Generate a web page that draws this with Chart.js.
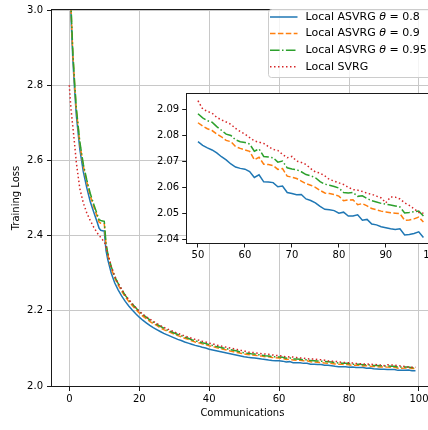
<!DOCTYPE html>
<html>
<head>
<meta charset="utf-8">
<script src="https://cdn.jsdelivr.net/npm/chart.js@4.4.0/dist/chart.umd.min.js"></script>
<style>
  html, body { margin: 0; padding: 0; background: #fff; overflow: hidden; }
  #wrap { position: relative; width: 428px; height: 430px; overflow: hidden; }
  #mainChart { position: absolute; left: 0; top: 0; }
  #insetChart { position: absolute; left: 140px; top: 85px; }
</style>
</head>
<body>
<div id="wrap">
  <canvas id="mainChart" width="440" height="430"></canvas>
  <canvas id="insetChart" width="320" height="180"></canvas>
</div>
<script>
// x positions: finer steps over the first rounds, then one per communication
const commsEarly = [0, 0.25, 0.5, 1, 1.5, 2, 3, 4, 5, 6, 7, 8, 8.5, 9, 9.5, 10, 10.5];
const comms = commsEarly.slice();
for (let c = 11; c <= 99; c++) comms.push(c);

const seriesLabels = ['Local ASVRG θ = 0.8', 'Local ASVRG θ = 0.9', 'Local ASVRG θ = 0.95', 'Local SVRG'];

const lossTheta08 = [
  3.50, 3.15, 2.98, 2.87, 2.79, 2.72, 2.63, 2.57, 2.527, 2.49, 2.462, 2.435, 2.42, 2.414, 2.413, 2.412, 2.36,
  2.336, 2.300, 2.274, 2.255, 2.239, 2.225, 2.213, 2.202, 2.192, 2.183, 2.175, 2.168, 2.161, 2.155, 2.150,
  2.145, 2.140, 2.136, 2.132, 2.128, 2.124, 2.121, 2.117, 2.114, 2.111, 2.108, 2.106, 2.103, 2.101, 2.098,
  2.096, 2.094, 2.092, 2.090, 2.088, 2.086, 2.084, 2.082, 2.080,
  2.0776, 2.0762, 2.0752, 2.0744, 2.0733, 2.0718, 2.0706, 2.0690, 2.0678, 2.0673,
  2.0670, 2.0661, 2.0638, 2.0648, 2.0621, 2.0620, 2.0618, 2.0602, 2.0605, 2.0580,
  2.0576, 2.0571, 2.0572, 2.0555, 2.0549, 2.0540, 2.0526, 2.0515, 2.0513, 2.0510,
  2.0500, 2.0504, 2.0489, 2.0489, 2.0494, 2.0473, 2.0476, 2.0458, 2.0455, 2.0448,
  2.0444, 2.0440, 2.0437, 2.0440, 2.0416, 2.0418, 2.0422, 2.0428, 2.0406, 2.0404
];

const lossTheta09 = [
  3.55, 3.20, 3.00, 2.885, 2.805, 2.735, 2.645, 2.585, 2.543, 2.505, 2.477, 2.45, 2.436, 2.433, 2.432, 2.431, 2.375,
  2.349, 2.313, 2.287, 2.268, 2.252, 2.237, 2.225, 2.214, 2.204, 2.194, 2.186, 2.179, 2.172, 2.166, 2.161,
  2.155, 2.150, 2.146, 2.142, 2.138, 2.134, 2.131, 2.127, 2.124, 2.120, 2.117, 2.115, 2.112, 2.110, 2.107,
  2.105, 2.102, 2.100, 2.098, 2.096, 2.093, 2.091, 2.089, 2.087,
  2.0849, 2.0836, 2.0826, 2.0819, 2.0806, 2.0795, 2.0781, 2.0776, 2.0757, 2.0750,
  2.0744, 2.0739, 2.0706, 2.0716, 2.0689, 2.0688, 2.0684, 2.0669, 2.0672, 2.0643,
  2.0639, 2.0634, 2.0624, 2.0614, 2.0608, 2.0600, 2.0588, 2.0578, 2.0576, 2.0572,
  2.0566, 2.0548, 2.0551, 2.0552, 2.0533, 2.0537, 2.0528, 2.0518, 2.0513, 2.0508,
  2.0505, 2.0502, 2.0500, 2.0498, 2.0473, 2.0474, 2.0478, 2.0485, 2.0466, 2.0465
];

const lossTheta095 = [
  3.58, 3.22, 3.01, 2.89, 2.81, 2.74, 2.65, 2.59, 2.548, 2.512, 2.483, 2.456, 2.442, 2.440, 2.439, 2.438, 2.38,
  2.353, 2.317, 2.291, 2.272, 2.256, 2.241, 2.229, 2.218, 2.208, 2.198, 2.190, 2.183, 2.176, 2.170, 2.164,
  2.159, 2.154, 2.149, 2.145, 2.141, 2.137, 2.134, 2.130, 2.127, 2.123, 2.120, 2.118, 2.115, 2.113, 2.110,
  2.108, 2.105, 2.103, 2.101, 2.099, 2.097, 2.095, 2.093, 2.090,
  2.0884, 2.0868, 2.0857, 2.0851, 2.0834, 2.0820, 2.0805, 2.0800, 2.0783, 2.0776,
  2.0773, 2.0767, 2.0739, 2.0748, 2.0719, 2.0717, 2.0714, 2.0697, 2.0701, 2.0675,
  2.0671, 2.0668, 2.0660, 2.0649, 2.0644, 2.0637, 2.0622, 2.0612, 2.0608, 2.0603,
  2.0597, 2.0580, 2.0578, 2.0580, 2.0565, 2.0567, 2.0557, 2.0548, 2.0543, 2.0538,
  2.0535, 2.0532, 2.0528, 2.0524, 2.0501, 2.0503, 2.0506, 2.0508, 2.0489, 2.0488
];

const lossSvrg = [
  2.80, 2.765, 2.735, 2.69, 2.645, 2.595, 2.525, 2.487, 2.46, 2.44, 2.422, 2.407, 2.40, 2.395, 2.389, 2.384, 2.37,
  2.353, 2.318, 2.292, 2.273, 2.257, 2.242, 2.230, 2.219, 2.209, 2.199, 2.191, 2.184, 2.178, 2.172, 2.166,
  2.161, 2.156, 2.152, 2.148, 2.144, 2.140, 2.137, 2.133, 2.130, 2.127, 2.124, 2.122, 2.119, 2.117, 2.114,
  2.112, 2.109, 2.107, 2.105, 2.103, 2.101, 2.099, 2.097, 2.095,
  2.0934, 2.0902, 2.0893, 2.0886, 2.0870, 2.0860, 2.0852, 2.0843, 2.0827, 2.0815,
  2.0805, 2.0792, 2.0779, 2.0774, 2.0769, 2.0757, 2.0746, 2.0742, 2.0727, 2.0714,
  2.0719, 2.0701, 2.0696, 2.0688, 2.0672, 2.0659, 2.0655, 2.0644, 2.0630, 2.0624,
  2.0617, 2.0611, 2.0600, 2.0591, 2.0589, 2.0584, 2.0577, 2.0573, 2.0566, 2.0559,
  2.0540, 2.0563, 2.0562, 2.0555, 2.0540, 2.0530, 2.0517, 2.0503, 2.0500, 2.0498
];

const mainXTicks = [0, 20, 40, 60, 80, 100];
const mainYTicks = [2.0, 2.2, 2.4, 2.6, 2.8, 3.0];
const insetXTicks = [50, 60, 70, 80, 90, 100];
const insetYTicks = [2.04, 2.05, 2.06, 2.07, 2.08, 2.09];

Chart.defaults.font.family = 'DejaVu Sans';
Chart.defaults.font.size = 10;
Chart.defaults.color = '#000';

const styles = [
  { values: lossTheta08, color: '#1f77b4', dash: [], order: 3 },
  { values: lossTheta09, color: '#ff7f0e', dash: [5.5, 2.4], order: 2 },
  { values: lossTheta095, color: '#2ca02c', dash: [9.6, 2.4, 1.5, 2.4], order: 1 },
  { values: lossSvrg, color: '#d62728', dash: [1.5, 2.5], order: 0 },
];

function toPoints(values, lo, hi) {
  const pts = [];
  comms.forEach((c, i) => {
    if (c >= lo && c <= hi) pts.push({ x: c, y: values[i] });
  });
  return pts;
}

function buildDatasets(lo, hi) {
  return styles.map((s, i) => ({
    label: seriesLabels[i],
    data: toPoints(s.values, lo, hi),
    borderColor: s.color,
    backgroundColor: s.color,
    borderDash: s.dash,
    borderWidth: 1.5,
    pointRadius: 0,
    tension: 0,
    order: s.order,
  }));
}

// black frame round the plot area, like matplotlib spines
const spines = {
  id: 'spines',
  afterDatasetsDraw(chart) {
    const a = chart.chartArea, ctx = chart.ctx;
    ctx.save();
    ctx.strokeStyle = '#1a1a1a';
    ctx.lineWidth = 1;
    const l = Math.round(a.left) - 0.5, t = Math.round(a.top) - 0.5;
    const r = Math.round(a.right) + 0.5, b = Math.round(a.bottom) + 0.5;
    ctx.strokeRect(l, t, r - l, b - t);
    ctx.restore();
  }
};

const whiteArea = {
  id: 'whiteArea',
  beforeDraw(chart) {
    const a = chart.chartArea, ctx = chart.ctx;
    ctx.save();
    ctx.fillStyle = '#fff';
    ctx.fillRect(a.left, a.top, a.right - a.left, a.bottom - a.top);
    ctx.restore();
  }
};

const boxLegend = {
  id: 'boxLegend',
  afterDraw(chart) {
    const ctx = chart.ctx;
    ctx.save();
    ctx.beginPath();
    ctx.roundRect(268.5, 9.5, 200, 68, 3);
    ctx.fillStyle = 'rgba(255,255,255,0.8)';
    ctx.fill();
    ctx.strokeStyle = '#cccccc';
    ctx.lineWidth = 1;
    ctx.stroke();
    styles.forEach((s, i) => {
      const y = 17 + i * 16.6;
      ctx.strokeStyle = s.color;
      ctx.lineWidth = 1.5;
      ctx.setLineDash(s.dash);
      ctx.beginPath();
      ctx.moveTo(270, y);
      ctx.lineTo(297.5, y);
      ctx.stroke();
      ctx.setLineDash([]);
      ctx.fillStyle = '#000';
      ctx.textBaseline = 'middle';
      const parts = seriesLabels[i].split('θ');
      let x = 305.5;
      ctx.font = '11px "DejaVu Sans"';
      ctx.fillText(parts[0], x, y);
      x += ctx.measureText(parts[0]).width;
      if (parts.length > 1) {
        ctx.font = 'italic 11px "DejaVu Sans"';
        ctx.fillText('θ', x, y);
        x += ctx.measureText('θ').width;
        ctx.font = '11px "DejaVu Sans"';
        ctx.fillText(parts[1], x, y);
      }
    });
    ctx.restore();
  }
};

new Chart(document.getElementById('mainChart'), {
  type: 'line',
  data: { datasets: buildDatasets(0, 99) },
  options: {
    responsive: false,
    animation: false,
    layout: { padding: { top: 7, right: 7.2, left: 0, bottom: 0 } },
    plugins: { legend: { display: false }, tooltip: { enabled: false } },
    scales: {
      x: {
        type: 'linear',
        min: -4.95,
        max: 103.95,
        afterFit: s => { s.height = 44; },
        afterBuildTicks: s => { s.ticks = mainXTicks.map(v => ({ value: v })); },
        ticks: { padding: 2, maxRotation: 0, callback: v => String(v) },
        grid: { color: '#c8c8c8', lineWidth: 1, tickColor: '#1a1a1a', tickLength: 5 },
        border: { display: false },
        title: { display: true, text: 'Communications', padding: { top: 0, bottom: 10.5 } },
      },
      y: {
        min: 2.0,
        max: 3.0,
        afterFit: s => { s.width = 52; },
        afterBuildTicks: s => { s.ticks = mainYTicks.map(v => ({ value: v })); },
        ticks: { padding: 4, callback: v => v.toFixed(1) },
        grid: { color: '#c8c8c8', lineWidth: 1, tickColor: '#1a1a1a', tickLength: 5 },
        border: { display: false },
        title: { display: true, text: 'Training Loss', padding: { top: 10, bottom: 0 } },
      },
    },
  },
  plugins: [spines, boxLegend],
});

new Chart(document.getElementById('insetChart'), {
  type: 'line',
  data: { datasets: buildDatasets(50, 98) },
  options: {
    responsive: false,
    animation: false,
    layout: { padding: { top: 6, right: 25.3, left: 0, bottom: 0 } },
    plugins: { legend: { display: false }, tooltip: { enabled: false } },
    scales: {
      x: {
        type: 'linear',
        min: 47.6,
        max: 100.4,
        afterFit: s => { s.height = 22; },
        afterBuildTicks: s => { s.ticks = insetXTicks.map(v => ({ value: v })); },
        ticks: { padding: 2, maxRotation: 0, callback: v => String(v) },
        grid: { drawOnChartArea: false, tickColor: '#1a1a1a', tickLength: 4.5 },
        border: { display: false },
      },
      y: {
        min: 2.0385,
        max: 2.0960,
        afterFit: s => { s.width = 46.7; },
        afterBuildTicks: s => { s.ticks = insetYTicks.map(v => ({ value: v })); },
        ticks: { padding: 3, callback: v => v.toFixed(2) },
        grid: { drawOnChartArea: false, tickColor: '#1a1a1a', tickLength: 4.5 },
        border: { display: false },
      },
    },
  },
  plugins: [whiteArea, spines],
});
</script>
</body>
</html>
